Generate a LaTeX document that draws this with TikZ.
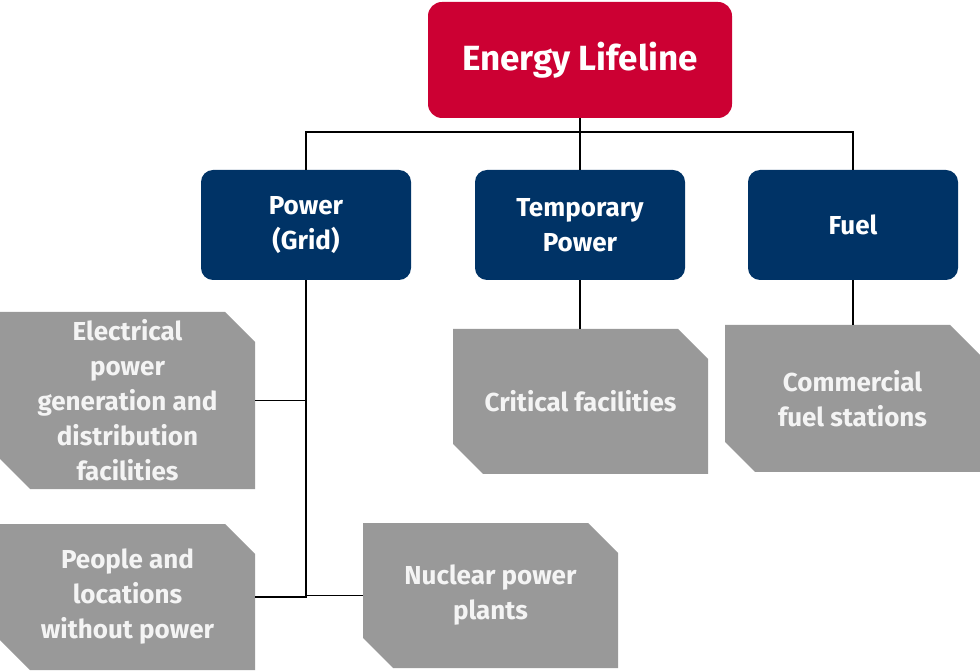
\documentclass[tikz,border=0pt]{standalone}
\usepackage{fontspec}
\setmainfont{Fira Sans}
\usepackage{tikz}
\usetikzlibrary{positioning}

\definecolor{lifered}{HTML}{CC0033}
\definecolor{lifenavy}{HTML}{003366}
\definecolor{lifegrey}{HTML}{999999}
\definecolor{lifetext}{HTML}{F4F4F4}

\tikzset{
	topbox/.style={fill=lifered, rounded corners=14pt, text=white, minimum width=304pt, minimum height=116pt, font=\bfseries\fontsize{35}{40}\selectfont},
	midbox/.style={fill=lifenavy, rounded corners=12pt, text=white, minimum width=210pt, minimum height=110pt, align=center, font=\bfseries\fontsize{26}{35}\selectfont},
	snipbox/.style={minimum width=255pt, align=center, text=lifetext, inner sep=0pt, font=\bfseries\fontsize{26}{35}\selectfont,
		path picture={\fill[lifegrey] (path picture bounding box.north west) -- ([xshift=-30pt]path picture bounding box.north east) -- ([yshift=-30pt]path picture bounding box.north east) -- (path picture bounding box.south east) -- ([xshift=30pt]path picture bounding box.south west) -- ([yshift=30pt]path picture bounding box.south west) -- cycle;}},
	wire/.style={draw=black, line width=1.6pt}
}

\begin{document}
\begin{tikzpicture}[x=1pt,y=1pt]
	\useasboundingbox (0,0) rectangle (980,670);
	
	\node[topbox] (energy) at (580,610) {Energy Lifeline};
	
	\node[midbox] (power) at (306,445) {Power\\(Grid)};
	\node[midbox] (temp) at (580,445) {Temporary\\Power};
	\node[midbox] (fuel) at (853,445) {Fuel};
	
	\node[snipbox, minimum height=177pt] (elec) at (127.5,269.5) {Electrical\\power\\generation and\\distribution\\facilities};
	\node[snipbox, minimum height=145pt] (crit) at (580.5,268.5) {Critical facilities};
	\node[snipbox, minimum height=147pt] (comm) at (852.5,271.5) {Commercial\\fuel stations};
	\node[snipbox, minimum height=146pt] (people) at (127.5,73) {People and\\locations\\without power};
	\node[snipbox, minimum height=145pt] (nuclear) at (490.5,74.5) {Nuclear power\\plants};
	
	% tree lines
	\coordinate (bus) at (580,538);
	\draw[wire] (energy.south) -- (temp.north);
	\draw[wire] (power.north) |- (bus) -| (fuel.north);
	
	\draw[wire] (temp.south) -- (crit.north -| temp.south);
	\draw[wire] (fuel.south) -- (comm.north -| fuel.south);
	
	\draw[wire] (power.south) |- (people.east);
	\draw[wire] (elec.east) -- (elec.east -| power.south);
	\draw[wire] (nuclear.west) -- (nuclear.west -| power.south);
	
\end{tikzpicture}
\end{document}
